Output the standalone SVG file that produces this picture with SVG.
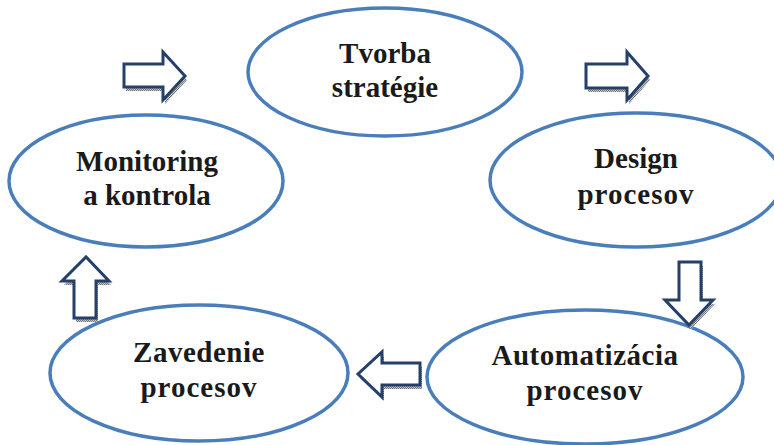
<svg xmlns="http://www.w3.org/2000/svg" width="774" height="445" viewBox="0 0 774 445">
<style>
.node ellipse{fill:#ffffff;stroke:#4a7ebb;stroke-width:3.5}
.node text{font-family:"Liberation Serif","Times New Roman",serif;font-weight:bold;font-size:29px;fill:#1a1a1a;text-anchor:middle}
.arr{fill:#ffffff;stroke:#243f68;stroke-width:3;stroke-linejoin:miter}
.sh{fill:url(#dots);stroke:none}
</style>
<defs>
<pattern id="dots" width="2" height="2" patternUnits="userSpaceOnUse">
<rect width="2" height="2" fill="#c8c8c8"/>
<rect width="1" height="1" fill="#777777"/>
<rect x="1" y="1" width="1" height="1" fill="#777777"/>
</pattern>
</defs>
<rect width="774" height="445" fill="#ffffff"/>
<g id="tvorba" class="node">
<ellipse cx="385" cy="72" rx="137" ry="64"/>
<text x="385" y="63">Tvorba</text>
<text x="385" y="97">stratégie</text>
</g>
<g id="design" class="node">
<ellipse cx="636" cy="180" rx="146" ry="67"/>
<text x="636" y="168">Design</text>
<text x="636" y="204" letter-spacing="1">procesov</text>
</g>
<g id="automatizacia" class="node">
<ellipse cx="585" cy="377" rx="158" ry="67"/>
<text x="585" y="365" letter-spacing="0.5">Automatizácia</text>
<text x="585" y="400" letter-spacing="1">procesov</text>
</g>
<g id="zavedenie" class="node">
<ellipse cx="199" cy="373" rx="149" ry="68"/>
<text x="199" y="362" letter-spacing="0.5">Zavedenie</text>
<text x="199" y="397" letter-spacing="1">procesov</text>
</g>
<g id="monitoring" class="node">
<ellipse cx="146" cy="181" rx="137" ry="66"/>
<text x="147" y="171">Monitoring</text>
<text x="147" y="205">a kontrola</text>
</g>
<g id="connectors">
<g transform="translate(2,4)">
<path class="sh" d="M124,64 L163,64 L163,52 L185,76 L163,100 L163,87 L124,87 Z"/>
<path class="sh" d="M586,64 L627,64 L627,52 L648,76 L627,100 L627,88 L586,88 Z"/>
<path class="sh" d="M679,262 L701,262 L701,300 L713,300 L689,325 L665,300 L679,300 Z"/>
<path class="sh" d="M420,363 L420,385 L382,385 L382,397 L358,374 L382,352 L382,363 Z"/>
<path class="sh" d="M74,318 L74,281 L62,281 L86,257 L109,281 L96,281 L96,318 Z"/>
</g>
<path class="arr" d="M124,64 L163,64 L163,52 L185,76 L163,100 L163,87 L124,87 Z"/>
<path class="arr" d="M586,64 L627,64 L627,52 L648,76 L627,100 L627,88 L586,88 Z"/>
<path class="arr" d="M679,262 L701,262 L701,300 L713,300 L689,325 L665,300 L679,300 Z"/>
<path class="arr" d="M420,363 L420,385 L382,385 L382,397 L358,374 L382,352 L382,363 Z"/>
<path class="arr" d="M74,318 L74,281 L62,281 L86,257 L109,281 L96,281 L96,318 Z"/>
</g>
</svg>
